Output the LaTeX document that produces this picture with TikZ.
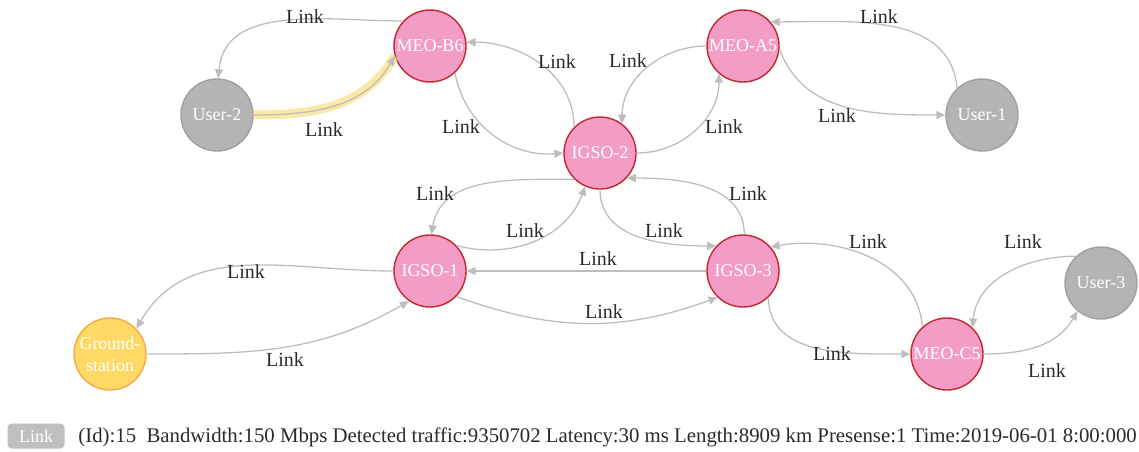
\documentclass[tikz,border=0pt]{standalone}
\usepackage{fontspec}
\setmainfont{Liberation Serif}
\usetikzlibrary{arrows.meta}
\definecolor{SatFill}{HTML}{F29CC6}
\definecolor{SatLine}{HTML}{C4262E}
\definecolor{UsrFill}{HTML}{B4B4B4}
\definecolor{UsrLine}{HTML}{A0A0A0}
\definecolor{GndFill}{HTML}{FFD966}
\definecolor{GndLine}{HTML}{F7A84A}
\definecolor{LinkGray}{HTML}{BDBDBD}
\definecolor{Ink}{HTML}{2A2A2A}
\definecolor{Glow}{HTML}{FAD96A}

\begin{document}
\begin{tikzpicture}[x=0.5pt,y=0.5pt,
  sat/.style={circle,draw=SatLine,fill=SatFill,line width=0.7pt,minimum size=36pt,
    inner sep=0pt,text=white,font=\fontsize{9}{11}\selectfont},
  usr/.style={sat,draw=UsrLine,fill=UsrFill},
  gnd/.style={sat,draw=GndLine,fill=GndFill,align=center},
  link/.style={draw=LinkGray,line width=0.65pt,-{Triangle[length=4.5pt,width=4pt]}},
  hot/.style={preaction={draw=Glow,line width=4.5pt,opacity=.6,-}},
  lbl/.style={text=Ink,inner sep=0pt,font=\fontsize{10}{12}\selectfont},
  tag/.style={fill=UsrFill!85!white,rounded corners=2pt,text=white,minimum width=28.5pt,
    minimum height=12.5pt,inner sep=0pt,font=\fontsize{9}{10}\selectfont}]
  \useasboundingbox (0,0) rectangle (1139,451);

  \node[sat] (b6) at (430,405) {MEO-B6};
  \node[sat] (a5) at (743,405) {MEO-A5};
  \node[usr] (u2) at (217,336) {User-2};
  \node[usr] (u1) at (982,336) {User-1};
  \node[sat] (i2) at (600,298) {IGSO-2};
  \node[sat] (i1) at (430,180) {IGSO-1};
  \node[sat] (i3) at (743,180) {IGSO-3};
  \node[gnd] (gs) at (110,97) {Ground-\\station};
  \node[sat] (c5) at (947,97) {MEO-C5};
  \node[usr] (u3) at (1101,168) {User-3};

  \draw[link] (b6.137) to[out=180,in=85] (u2.88);
  \draw[link,hot] (u2.0) to[out=0,in=240] (b6.196);
  \draw[link] (b6.313) to[out=280,in=185] (i2.180);
  \draw[link] (i2.135) to[out=90,in=0] (b6.6);
  \draw[link] (a5.180) to[out=180,in=90] (i2.53);
  \draw[link] (i2.0) to[out=0,in=270] (a5.229);
  \draw[link] (u1.133) to[out=95,in=0] (a5.41);
  \draw[link] (a5.355) to[out=290,in=180] (u1.180);
  \draw[link] (i2.226) to[out=180,in=80] (i1.88);
  \draw[link] (i1.44) to[out=345,in=250] (i2.246);
  \draw[link] (i2.270) to[out=270,in=180] (i3.137);
  \draw[link] (i3.88) to[out=90,in=0] (i2.317);
  \draw[link] (i3) -- (i1);
  \draw[link] (i1.316) to[out=340,in=200] (i3.226);
  \draw[link] (i1.180) to[out=180,in=60] (gs.44);
  \draw[link] (gs.0) to[out=0,in=210] (i1.235);
  \draw[link] (c5.132) to[out=95,in=10] (i3.41);
  \draw[link] (i3.314) to[out=270,in=180] (c5.180);
  \draw[link] (u3.133) to[out=180,in=85] (c5.46);
  \draw[link] (c5.0) to[out=0,in=240] (u3.230);

  \node[lbl] (l1) at (305,434) {Link};
  \node[lbl] (l2) at (324,321) {Link};
  \node[lbl] (l3) at (461,324) {Link};
  \node[lbl] (l4) at (557,389) {Link};
  \node[lbl] (l5) at (628,390) {Link};
  \node[lbl] (l6) at (724,324) {Link};
  \node[lbl] (l7) at (879,434) {Link};
  \node[lbl] (l8) at (837,335) {Link};
  \node[lbl] (l9) at (435,257) {Link};
  \node[lbl] (l10) at (525,220) {Link};
  \node[lbl] (l11) at (664,220) {Link};
  \node[lbl] (l12) at (748,257) {Link};
  \node[lbl] (l13) at (598,192) {Link};
  \node[lbl] (l14) at (604,139) {Link};
  \node[lbl] (l15) at (246,179) {Link};
  \node[lbl] (l16) at (285,91) {Link};
  \node[lbl] (l17) at (868,209) {Link};
  \node[lbl] (l18) at (1023,209) {Link};
  \node[lbl] (l19) at (832,97) {Link};
  \node[lbl] (l20) at (1047,80) {Link};

  \node[tag] (key) at (36,15) {Link};
  \node[lbl,anchor=west,font=\fontsize{10.4}{12}\selectfont] (info) at (78,14)
    {(Id):15\ \ Bandwidth:150 Mbps Detected traffic:9350702 Latency:30 ms Length:8909 km Presense:1 Time:2019-06-01 8:00:000};
\end{tikzpicture}
\end{document}
